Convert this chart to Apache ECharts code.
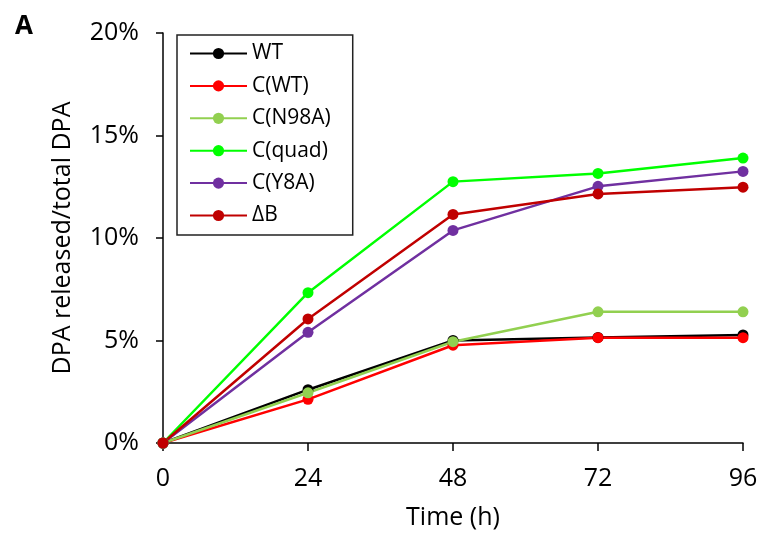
<!DOCTYPE html>
<html><head><meta charset="utf-8">
<script src="https://cdn.jsdelivr.net/npm/echarts@6/dist/echarts.min.js"></script>
<style>html,body{margin:0;padding:0;background:#fff}#c{width:761px;height:535px}</style>
</head><body><div id="c"></div>
<script>
const times = [0, 24, 48, 72, 96];
const seriesNames = ['WT', 'C(WT)', 'C(N98A)', 'C(quad)', 'C(Y8A)', 'ΔB'];
const seriesColors = ['#000000', '#ff0000', '#92d050', '#00ff00', '#7030a0', '#c00000'];
const wt = [0, 2.6, 5.0, 5.15, 5.27];
const cwt = [0, 2.13, 4.77, 5.14, 5.14];
const cn98a = [0, 2.45, 4.94, 6.4, 6.4];
const cquad = [0, 7.33, 12.75, 13.15, 13.9];
const cy8a = [0, 5.4, 10.37, 12.52, 13.25];
const deltaB = [0, 6.05, 11.15, 12.15, 12.48];
const yTicks = [0, 5, 10, 15, 20];
const allData = [wt, cwt, cn98a, cquad, cy8a, deltaB];

const font = '"Open Sans", "Noto Sans", sans-serif';
const chart = echarts.init(document.getElementById('c'), null, {renderer: 'canvas'});
chart.setOption({
  animation: false,
  backgroundColor: '#fff',
  grid: {left: 163, right: 18, top: 33, bottom: 92, containLabel: false},
  title: {text: 'A', left: 10, top: 9, textStyle: {fontFamily: font, fontWeight: 'bold', fontSize: 26, color: '#000'}},
  legend: {
    orient: 'vertical', left: 177, top: 35,
    data: seriesNames,
    itemWidth: 57, itemHeight: 14, itemGap: 11.4,
    padding: [8, 22, 9, 12],
    borderColor: '#222', borderWidth: 1.5,
    textStyle: {fontFamily: font, fontSize: 21, lineHeight: 20, color: '#000', padding: [0, 0, 0, 0]},
    itemStyle: {borderWidth: 0}
  },
  xAxis: {
    type: 'value', min: 0, max: 96, interval: 24,
    name: 'Time (h)', nameLocation: 'middle', nameGap: 62,
    nameTextStyle: {fontFamily: font, fontSize: 25, color: '#000'},
    axisLine: {lineStyle: {color: '#000', width: 1.5}},
    axisTick: {show: true, length: 8, lineStyle: {color: '#000', width: 1.5}},
    axisLabel: {fontFamily: font, fontSize: 25, color: '#000', margin: 23},
    splitLine: {show: false}
  },
  yAxis: {
    type: 'value', min: yTicks[0], max: yTicks[yTicks.length - 1], interval: 5,
    name: 'DPA released/total DPA', nameLocation: 'middle', nameGap: 88,
    nameTextStyle: {fontFamily: font, fontSize: 25, color: '#000'},
    axisLine: {show: true, lineStyle: {color: '#000', width: 1.5}},
    axisTick: {show: true, length: 7, lineStyle: {color: '#000', width: 1.5}},
    axisLabel: {fontFamily: font, fontSize: 25, color: '#000', margin: 24, formatter: v => v + '%'},
    splitLine: {show: false}
  },
  series: seriesNames.map((n, i) => ({
    name: n, type: 'line',
    data: times.map((t, j) => [t, allData[i][j]]),
    symbol: 'circle', symbolSize: 11,
    lineStyle: {color: seriesColors[i], width: 2.5},
    itemStyle: {color: seriesColors[i]},
    emphasis: {disabled: true}
  }))
});
</script></body></html>
